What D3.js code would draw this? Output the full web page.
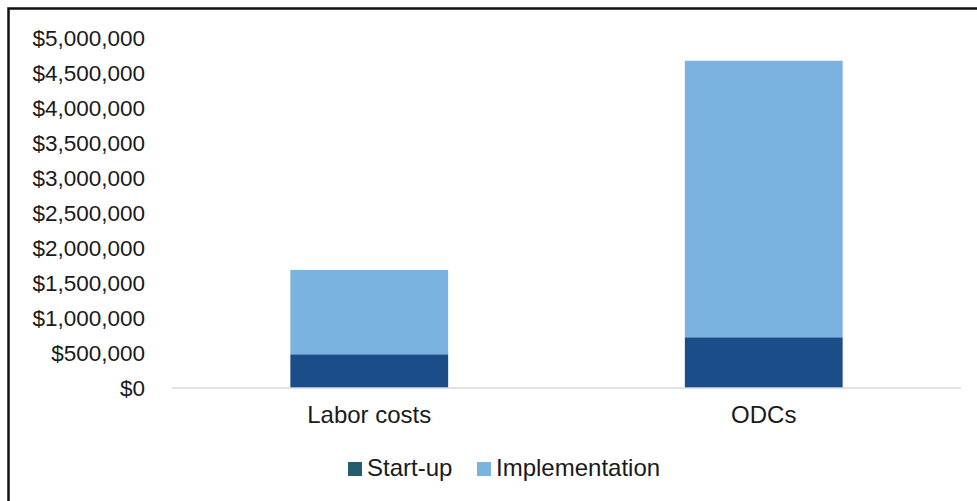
<!DOCTYPE html>
<html>
<head>
<meta charset="utf-8">
<script src="https://cdn.jsdelivr.net/npm/d3@7"></script>
<style>
  html, body { margin: 0; padding: 0; background: #fff; }
  svg { display: block; font-family: "Liberation Sans", Arial, sans-serif; }
</style>
</head>
<body>
<div id="chart"></div>
<script>
// data
var categories = ["Labor costs", "ODCs"];
var series = ["Start-up", "Implementation"];
var startUp = [482000, 725000];
var implementation = [1205000, 3950000];
var yTicks = [0, 500000, 1000000, 1500000, 2000000, 2500000, 3000000, 3500000, 4000000, 4500000, 5000000];

var barColors = { "Start-up": "#1b4e88", "Implementation": "#7ab3e0" };
var legendColors = { "Start-up": "#245d6e", "Implementation": "#7ab3e0" };

var W = 977, H = 501;
var margin = { top: 38, right: 16, bottom: 113, left: 172 };

var svg = d3.select("#chart").append("svg")
    .attr("width", W)
    .attr("height", H);

// frame (only left and top edges are visible in the crop)
svg.append("rect")
    .attr("x", 8.5).attr("y", 8.5)
    .attr("width", W + 20).attr("height", H + 20)
    .attr("fill", "none")
    .attr("stroke", "#111")
    .attr("stroke-width", 2.5);

var x = d3.scaleBand()
    .domain(categories)
    .range([margin.left, W - margin.right])
    .paddingInner(0.6)
    .paddingOuter(0.3);

var y = d3.scaleLinear()
    .domain([0, 5000000])
    .range([H - margin.bottom, margin.top]);

var rows = categories.map(function (c, i) {
  return { category: c, "Start-up": startUp[i], "Implementation": implementation[i] };
});
var stacked = d3.stack().keys(series)(rows);

svg.append("g")
  .selectAll("g")
  .data(stacked)
  .enter().append("g")
    .attr("fill", function (d) { return barColors[d.key]; })
  .selectAll("rect")
  .data(function (d) { return d; })
  .enter().append("rect")
    .attr("x", function (d) { return x(d.data.category); })
    .attr("width", x.bandwidth())
    .attr("y", function (d) { return y(d[1]); })
    .attr("height", function (d) { return y(d[0]) - y(d[1]); });

// y axis labels
var yAxis = d3.axisLeft(y)
    .tickValues(yTicks)
    .tickSize(0)
    .tickPadding(27)
    .tickFormat(d3.format("$,"));

svg.append("g")
    .attr("transform", "translate(" + margin.left + ",0)")
    .call(yAxis)
    .call(function (g) { g.select(".domain").remove(); })
    .selectAll("text")
      .attr("font-size", "22.5px")
      .attr("font-family", "Liberation Sans, Arial, sans-serif")
      .attr("fill", "#1a1a1a");

// baseline
svg.append("line")
    .attr("x1", margin.left).attr("x2", W - margin.right)
    .attr("y1", y(0)).attr("y2", y(0))
    .attr("stroke", "#d9d9d9")
    .attr("stroke-width", 1.5);

// category labels
var xAxis = d3.axisBottom(x).tickSize(0).tickPadding(18);
svg.append("g")
    .attr("transform", "translate(0," + y(0) + ")")
    .call(xAxis)
    .call(function (g) { g.select(".domain").remove(); })
    .selectAll("text")
      .attr("font-size", "24px")
      .attr("font-family", "Liberation Sans, Arial, sans-serif")
      .attr("fill", "#1a1a1a");

// legend
var legendItems = [
  { key: "Start-up", x: 348 },
  { key: "Implementation", x: 477 }
];
var legend = svg.append("g").attr("transform", "translate(0,476)");
legendItems.forEach(function (it) {
  legend.append("rect")
      .attr("x", it.x).attr("y", -14)
      .attr("width", 14).attr("height", 14)
      .attr("fill", legendColors[it.key]);
  legend.append("text")
      .attr("x", it.x + 19).attr("y", 0)
      .attr("font-size", "24px")
      .attr("fill", "#1a1a1a")
      .text(it.key);
});
</script>
</body>
</html>
